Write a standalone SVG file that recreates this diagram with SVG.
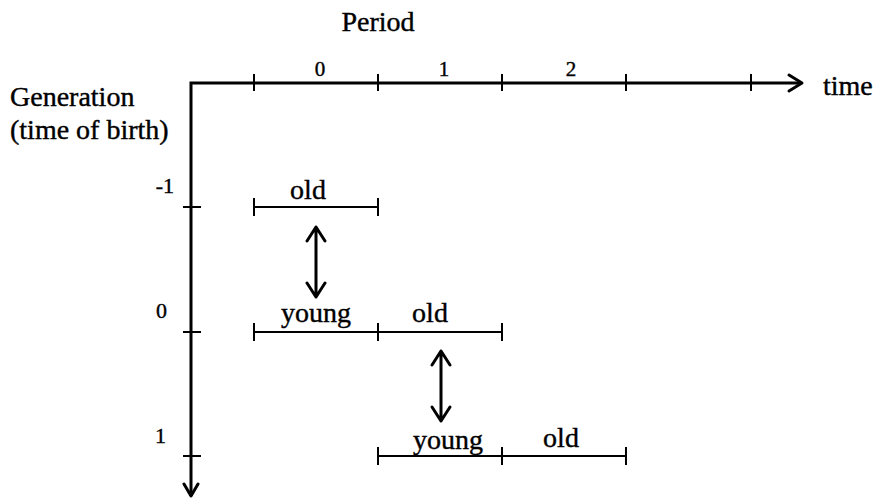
<svg xmlns="http://www.w3.org/2000/svg" width="877" height="498" viewBox="0 0 877 498">
<style>
text{font-family:"Liberation Serif","Times New Roman",serif;fill:#000;stroke:#000;stroke-width:0.4}
.lab{font-size:28px}
.num{font-size:21px}
.gen{font-size:22px}
.axis{stroke:#000;stroke-width:3;fill:none}
.seg{stroke:#000;stroke-width:2;fill:none}
.arr{stroke:#000;stroke-width:3;fill:none;stroke-linecap:round;stroke-linejoin:round}
</style>
<rect width="877" height="498" fill="#fff"/>
<g id="axes">
<path class="axis" d="M191,496 V83 H801"/>
<path class="arr" d="M789,75 L802,83 L789,91"/>
<path class="arr" d="M184,484 L191,496 L198,484"/>
<path class="seg" d="M254,74 V91 M378,74 V91 M502,74 V91 M626,74 V91 M751,74 V91"/>
<path class="seg" d="M183,207 H201 M183,332 H201 M183,456 H201"/>
<text class="lab" x="378" y="31" text-anchor="middle">Period</text>
<text class="lab" x="823" y="95">time</text>
<text class="lab" x="10" y="106">Generation</text>
<text class="lab" x="10" y="139">(time of birth)</text>
<text class="num" x="320" y="76" text-anchor="middle">0</text>
<text class="num" x="444" y="76" text-anchor="middle">1</text>
<text class="num" x="571" y="76" text-anchor="middle">2</text>
<text class="gen" x="174" y="193" text-anchor="end">-1</text>
<text class="gen" x="167" y="318" text-anchor="end">0</text>
<text class="gen" x="166" y="443" text-anchor="end">1</text>
</g>
<g id="gen-1">
<path class="seg" d="M254,207 H378 M254,198 V216 M378,198 V216"/>
<text class="lab" x="308" y="199" text-anchor="middle">old</text>
</g>
<g id="gen0">
<path class="seg" d="M254,332 H502 M254,323 V341 M378,323 V341 M502,323 V341"/>
<text class="lab" x="316" y="322" text-anchor="middle">young</text>
<text class="lab" x="430" y="322" text-anchor="middle">old</text>
</g>
<g id="gen1">
<path class="seg" d="M378,456 H626 M378,447 V465 M502,447 V465 M626,447 V465"/>
<text class="lab" x="448" y="449" text-anchor="middle">young</text>
<text class="lab" x="561" y="447" text-anchor="middle">old</text>
</g>
<g id="connectors">
<path class="arr" d="M316,227 V297 M307,241 L316,227 L325,241 M307,283 L316,297 L325,283"/>
<path class="arr" d="M441,351 V421 M432,365 L441,351 L450,365 M432,407 L441,421 L450,407"/>
</g>
</svg>
